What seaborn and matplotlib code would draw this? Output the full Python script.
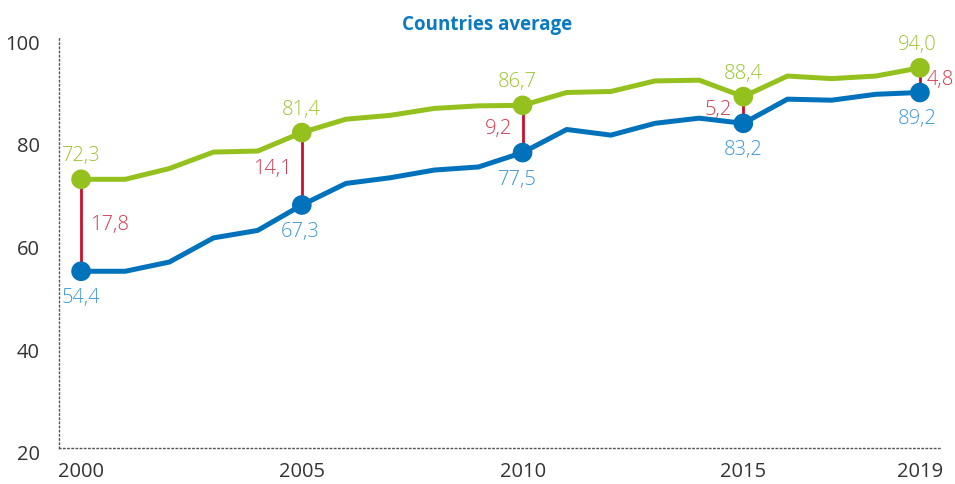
import matplotlib
matplotlib.use("Agg")
import matplotlib.pyplot as plt
import matplotlib.transforms as mtransforms
import seaborn as sns
import pandas as pd

years = list(range(2000, 2020))
green_vals = [72.3, 72.3, 74.4, 77.6, 77.8, 81.4, 84.0, 84.75, 86.1, 86.6,
              86.7, 89.2, 89.4, 91.45, 91.6, 88.4, 92.4, 91.9, 92.4, 94.0]
blue_vals = [54.4, 54.4, 56.2, 60.9, 62.35, 67.3, 71.5, 72.6, 74.1, 74.7,
             77.5, 82.0, 80.9, 83.2, 84.2, 83.2, 87.9, 87.7, 88.85, 89.2]
highlight_years = [2000, 2005, 2010, 2015, 2019]
green_hl = [72.3, 81.4, 86.7, 88.4, 94.0]
blue_hl = [54.4, 67.3, 77.5, 83.2, 89.2]
gap_vals = [17.8, 14.1, 9.2, 5.2, 4.8]
x_ticks = [2000, 2005, 2010, 2015, 2019]
y_ticks = [20, 40, 60, 80, 100]
title = "Countries average"

GREEN = "#95C11F"
BLUE = "#0072BC"
RED = "#C8102E"
GREEN_TXT = "#9CC531"
BLUE_TXT = "#3D97D3"
RED_TXT = "#D33A4F"

sns.set_theme(style="white")
plt.rcParams["font.family"] = ["Open Sans", "DejaVu Sans"]

fig = plt.figure(figsize=(9.55, 4.84), dpi=100)
ax = fig.add_axes([59/955, 1-448/484, (942-59)/955, (448-37)/484])

df = pd.DataFrame({"year": years * 2,
                   "value": green_vals + blue_vals,
                   "series": ["green"] * len(years) + ["blue"] * len(years)})
sns.lineplot(data=df, x="year", y="value", hue="series",
             palette={"green": GREEN, "blue": BLUE}, linewidth=3.6,
             legend=False, ax=ax, zorder=3)

ax.vlines(highlight_years, blue_hl, green_hl, colors=RED, linewidth=2.0, zorder=2)

hl = pd.DataFrame({"year": highlight_years * 2,
                   "value": green_hl + blue_hl,
                   "series": ["green"] * 5 + ["blue"] * 5})
sns.scatterplot(data=hl, x="year", y="value", hue="series",
                palette={"green": GREEN, "blue": BLUE}, s=200, edgecolor="none",
                legend=False, ax=ax, zorder=4)

def fmt(v):
    return f"{v:.1f}".replace(".", ",")

px = 0.72
fs = 14.5
green_dx = [0, -1, -5, 0, -3]
blue_dx = [0, -2, -5, 0, -3]
gap_dx = [28, -29, -24, -25, 20]
for i, yr in enumerate(highlight_years):
    ax.annotate(fmt(green_hl[i]), (yr, green_hl[i]),
                xytext=(green_dx[i]*px, 23*px), textcoords="offset points",
                ha="center", va="center", fontsize=fs, color=GREEN_TXT,
                fontweight="light")
    ax.annotate(fmt(blue_hl[i]), (yr, blue_hl[i]),
                xytext=(blue_dx[i]*px, -27*px), textcoords="offset points",
                ha="center", va="center", fontsize=fs, color=BLUE_TXT,
                fontweight="light")
    mid = (green_hl[i] + blue_hl[i]) / 2
    ax.annotate(fmt(gap_vals[i]), (yr, mid),
                xytext=(gap_dx[i]*px, 0), textcoords="offset points",
                ha="center", va="center", fontsize=fs, color=RED_TXT,
                fontweight="light")

ax.set_xlim(1999.5, 2019.5)
ax.set_ylim(20, 100)
ax.set_xticks(x_ticks)
ax.set_xticklabels([str(t) for t in x_ticks])
ax.set_yticks(y_ticks)
ax.set_yticklabels([str(t) for t in y_ticks])
ax.set_xlabel("")
ax.set_ylabel("")
ax.tick_params(axis="both", labelsize=fs, labelcolor="#333333", length=0)
ax.tick_params(axis="x", pad=10)
ax.tick_params(axis="y", pad=14)

shift = mtransforms.ScaledTranslation(0, -5/100, fig.dpi_scale_trans)
for lbl in ax.get_yticklabels():
    lbl.set_transform(lbl.get_transform() + shift)

for side in ["top", "right"]:
    ax.spines[side].set_visible(False)
for side in ["left", "bottom"]:
    ax.spines[side].set_visible(True)
    ax.spines[side].set_linestyle((0, (1, 2)))
    ax.spines[side].set_color("#555555")
    ax.spines[side].set_linewidth(1.0)

fig.text(487/955, 1-25/484, title, ha="center", va="center",
         fontsize=13.5, fontweight="bold", color="#0A7AC2")

fig.savefig("out.png", dpi=100)
